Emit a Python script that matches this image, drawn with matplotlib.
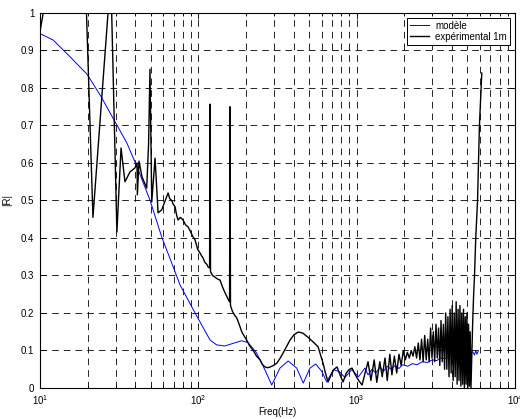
# -*- coding: utf-8 -*-
"""
Coefficient de réflexion |R| : modèle vs expérimental 1m
"""

import matplotlib
matplotlib.use('Agg')
import matplotlib.pyplot as plt
from matplotlib.ticker import LogLocator, FixedLocator, FixedFormatter

# ==================== données ====================
# modèle (courbe bleue)
model_freq = [10, 12.1, 15.5, 19.8, 24.0, 28.9, 35.4, 41, 49.5, 59, 66, 76.6,
              95.4, 107.6, 118.6, 130.4, 147.3, 165.6, 187.6, 206.5, 233.6,
              263.6, 290.8, 327.6, 369, 418.4, 460, 507, 551, 603, 647, 712,
              775, 843, 931, 1026, 1127, 1180, 1250, 1320, 1400, 1480, 1560,
              1650, 1750, 1850, 1950, 2100, 2250, 2400, 2600, 2800, 3000,
              3200, 3400, 3600, 3800, 4000, 4200, 4400, 4600, 4800, 5000,
              5200, 5400, 5550, 5650, 5750, 5850]
model_val = [0.945, 0.928, 0.883, 0.837, 0.781, 0.72, 0.653, 0.59, 0.501, 0.40,
             0.347, 0.275, 0.2, 0.16, 0.128, 0.115, 0.112, 0.119, 0.126, 0.121,
             0.093, 0.048, 0.008, 0.053, 0.072, 0.053, 0.013, 0.053, 0.064,
             0.044, 0.016, 0.049, 0.044, 0.028, 0.049, 0.03, 0.053, 0.035,
             0.05, 0.04, 0.055, 0.045, 0.058, 0.05, 0.06, 0.052, 0.062, 0.058,
             0.065, 0.062, 0.07, 0.068, 0.075, 0.073, 0.08, 0.078, 0.084,
             0.082, 0.088, 0.085, 0.09, 0.088, 0.094, 0.09, 0.097, 0.088, 0.1,
             0.09, 0.098]

# expérimental 1m (courbe noire)
exp_freq = [10, 11.5, 15, 19, 21.6, 28, 30.6, 32.5, 34.4, 37.0, 39.8, 41.0,
            41.2, 42.2, 44.1, 47.2, 48.5, 49.5, 50.8, 53.3, 55.7, 58.7, 64.4,
            66, 67.9, 69.5, 71.3, 73, 74.5, 77, 80.1, 83, 86, 88.6, 92, 95.3,
            99, 102.5, 105, 107, 110, 113, 115.2, 117.8, 118.6, 119.4, 123,
            128, 133, 137, 142, 147, 151, 155, 157.5, 158.6, 159.6, 164, 169,
            174.8, 181, 188, 195, 202, 211, 221.6, 233, 245.4, 254, 263.8,
            273, 283.8, 298, 312.8, 327, 342.8, 360, 379.6, 402, 426.5, 442,
            458.6, 493, 530.5, 570.5, 590, 613.5, 635, 659.7, 690, 720, 751.7,
            785, 820.5, 860, 900, 935, 980, 1030, 1082, 1130,
            1180, 1230, 1290, 1340, 1400, 1450, 1510, 1560, 1620, 1670, 1730,
            1790, 1850, 1910, 1970, 2030, 2090, 2150, 2210, 2270, 2330, 2390,
            2450, 2510, 2570, 2630, 2690, 2750, 2810, 2870, 2930, 2990, 3050,
            3110, 3170, 3230, 3290, 3350, 3410, 3470, 3530, 3590, 3650, 3710,
            3770, 3830, 3890, 3950, 4010, 4070, 4130, 4190, 4250, 4310, 4370,
            4430, 4490, 4550, 4610, 4670, 4730, 4790, 4850, 4910, 4970, 5030,
            5090, 5150, 5210, 5270, 5330, 5400, 5480, 5550, 5650, 5800, 5960,
            6080, 6170]
exp_val = [0.95, 1.1, 1.5, 1.2, 0.455, 1.1, 0.416, 0.64, 0.55, 0.576, 0.587,
           0.60, 0.515, 0.605, 0.563, 0.533, 0.65, 0.85, 0.496, 0.613, 0.467,
           0.475, 0.52, 0.505, 0.50, 0.49, 0.483, 0.46, 0.448, 0.455, 0.448,
           0.435, 0.43, 0.42, 0.405, 0.395, 0.37, 0.36, 0.352, 0.347, 0.335,
           0.33, 0.323, 0.32, 0.757, 0.31, 0.30, 0.295, 0.29, 0.288, 0.27,
           0.255, 0.245, 0.235, 0.23, 0.75, 0.22, 0.205, 0.195, 0.187, 0.17,
           0.15, 0.138, 0.128, 0.112, 0.101, 0.085, 0.075, 0.063, 0.056,
           0.054, 0.056, 0.06, 0.066, 0.078, 0.093, 0.11, 0.128, 0.142, 0.149,
           0.148, 0.146, 0.135, 0.123, 0.11, 0.09, 0.066, 0.04, 0.016, 0.035,
           0.05, 0.056, 0.035, 0.016, 0.04, 0.05, 0.053, 0.035, 0.02, 0.008,
           0.04,
           0.07, 0.02, 0.075, 0.015, 0.07, 0.03, 0.08, 0.02, 0.09, 0.035,
           0.085, 0.04, 0.09, 0.06, 0.1, 0.075, 0.095, 0.08, 0.1, 0.085, 0.11,
           0.08, 0.12, 0.075, 0.13, 0.07, 0.14, 0.075, 0.13, 0.07, 0.16, 0.08,
           0.15, 0.07, 0.17, 0.08, 0.16, 0.06, 0.18, 0.07, 0.17, 0.05, 0.2,
           0.05, 0.19, 0.03, 0.21, 0.04, 0.22, 0.02, 0.2, 0.03, 0.23, 0.01,
           0.21, 0.02, 0.22, 0.005, 0.2, 0.01, 0.21, 0.0, 0.19, 0.01, 0.2,
           0.0, 0.17, 0.005, 0.15, 0.0, 0.08, 0.17, 0.25, 0.3, 0.4, 0.5, 0.7,
           0.78, 0.84]

y_ticks = [0, 0.1, 0.2, 0.3, 0.4, 0.5, 0.6, 0.7, 0.8, 0.9, 1]
y_ticklabels = ['0', '0.1', '0.2', '0.3', '0.4', '0.5', '0.6', '0.7', '0.8',
                '0.9', '1']
# ================================================

plt.rcParams['font.family'] = ['Liberation Sans', 'DejaVu Sans']
plt.rcParams['mathtext.fontset'] = 'custom'
plt.rcParams['mathtext.rm'] = 'Liberation Sans'

fig = plt.figure(figsize=(5.2, 4.19), dpi=100)
ax = fig.add_axes([0.0769, 0.074, 0.9135, 0.895])

ax.plot(model_freq, model_val, color='#0000ff', lw=0.7, label='modèle')
ax.plot(exp_freq, exp_val, color='black', lw=1.0, label='expérimental 1m')

ax.set_xscale('log')
ax.set_xlim(10, 1e4)
ax.set_ylim(0, 1)

# graduations
ax.xaxis.set_major_locator(LogLocator(base=10, numticks=10))
ax.xaxis.set_minor_locator(LogLocator(base=10, subs=range(2, 10), numticks=10))
ax.yaxis.set_major_locator(FixedLocator(y_ticks))
ax.yaxis.set_major_formatter(FixedFormatter(y_ticklabels))
ax.tick_params(which='both', direction='in', top=True, right=True,
               labelsize=7, width=0.6, colors='black')
ax.tick_params(which='major', length=4, pad=4)
ax.tick_params(which='minor', length=2)

# grille pointillée (style MATLAB)
dash = (0, (8, 6))
ax.grid(which='major', axis='both', color='black', lw=0.6, linestyle=dash)
ax.grid(which='minor', axis='x', color='black', lw=0.6, linestyle=dash)

for spine in ax.spines.values():
    spine.set_linewidth(0.8)

ax.set_xlabel('Freq(Hz)', fontsize=7)
ax.xaxis.set_label_coords(0.5, -0.052)
ax.set_ylabel('|R|', fontsize=7)
ax.yaxis.set_label_coords(-0.058, 0.5)

leg = ax.legend(loc='upper right', fontsize=7, frameon=True, fancybox=False,
                edgecolor='black', framealpha=1, handlelength=1.9,
                handletextpad=0.7, borderaxespad=0.5, borderpad=0.3,
                labelspacing=0.1)
leg.get_frame().set_linewidth(0.7)

fig.savefig('out.png', dpi=100)
